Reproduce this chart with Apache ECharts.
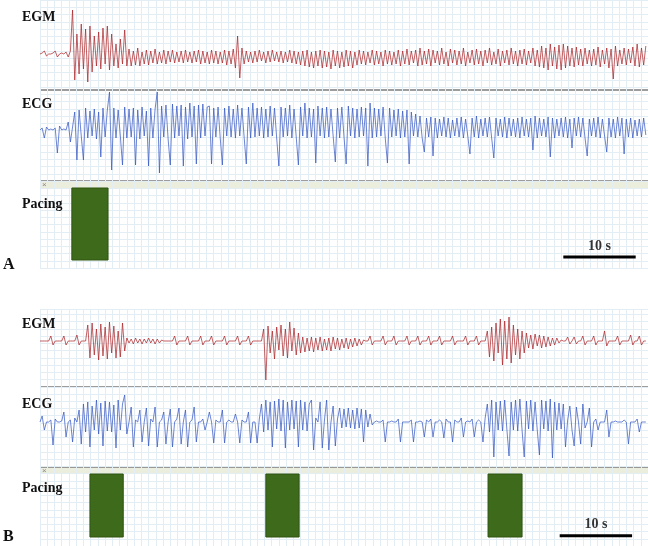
<!DOCTYPE html>
<html>
<head>
<meta charset="utf-8">
<title>EGM / ECG pacing</title>
<script src="https://cdn.jsdelivr.net/npm/echarts@6/dist/echarts.min.js"></script>
</head>
<body style="margin:0;background:#fff">
<div id="main" style="width:648px;height:546px;"></div>
<script type="text/javascript">
var DT = 0.3;      // seconds per sample
var T_MAX = 84;    // seconds shown across the strip

// panel A, signal offsets from baseline (up = positive), one value per DT
var egmA = [
    0, 1, 3, -2, 0, 0, 1, 3, -3, 0, 1, 0, 2, -3, 3, 44, -26, 20, -20, 30,
    -15, 25, -28, 28, -18, 18, -12, 22, -15, 26, -10, 28, -16, 20, -12, 10, -14, 15, -10, 24,
    -12, 5, -12, 3, -11, 6, -12, 2, -10, 4, -11, 3, -9, 5, -10, 2, -9, 4, -10, 3,
    -8, 4, -9, 2, -8, 3, -9, 4, -8, 2, -9, 3, -8, 4, -10, 3, -9, 2, -10, 4,
    -9, 3, -10, 2, -9, 4, -11, 3, -10, 5, -14, 18, -24, 6, -10, 3, -8, 2, -9, 3,
    -8, 4, -7, 2, -9, 3, -8, 4, -7, 2, -8, 3, -9, 2, -8, 4, -9, 3, -10, 2,
    -11, 3, -12, 4, -13, 2, -14, 3, -12, 4, -14, 3, -13, 2, -15, 4, -12, 3, -14, 2,
    -13, 4, -12, 3, -14, 2, -11, 4, -10, 3, -11, 2, -9, 4, -11, 3, -10, 2, -12, 4,
    -10, 3, -11, 2, -10, 4, -12, 3, -10, 5, -11, 3, -9, 4, -12, 6, -11, 3, -10, 5,
    -12, 4, -9, 3, -11, 6, -10, 2, -12, 5, -9, 4, -11, 3, -10, 6, -12, 2, -9, 4,
    -11, 5, -10, 3, -12, 4, -9, 6, -11, 2, -10, 5, -12, 3, -9, 4, -11, 6, -10, 3,
    -12, 4, -10, 5, -11, 3, -9, 6, -12, 4, -13, 8, -14, 6, -16, 10, -12, 7, -15, 9,
    -16, 10, -14, 8, -12, 6, -13, 7, -11, 5, -12, 6, -10, 4, -12, 5, -11, 7, -13, 4,
    -10, 6, -14, 5, -25, 8, -12, 4, -10, 6, -11, 5, -9, 7, -12, 10, -13, 6, -11, 8
];
var ecgA = [
    0, 2, -8, 3, 0, 1, 0, 2, -23, 4, 0, 1, 0, 8, -12, 3, 18, -30, 20, -6,
    -30, 22, -8, 19, -6, 21, -9, 18, -27, 22, -7, 20, 38, -40, 22, -8, 20, -6, -35, 23,
    -8, 21, -7, 22, -35, 20, -9, 23, -6, 19, -36, 22, -8, 21, 38, -43, 24, -7, 25, -9,
    -35, 26, -8, 24, -6, 25, -36, 23, -9, 27, -7, 24, -34, 25, -8, 26, -6, 23, 24, -34,
    22, -7, 23, -8, -35, 22, -6, 24, -7, 21, -8, 25, -6, 22, -7, -34, 23, -8, 27, -7,
    22, -6, 23, -8, 21, -7, 24, -6, 22, -8, -36, 23, -7, 22, -6, 25, -8, 21, -7, -35,
    23, -6, 27, -8, 22, -7, 21, -33, 24, -6, 22, -8, 23, -7, 21, -6, -32, 22, -8, 23,
    -7, -34, 24, -6, 22, -8, 21, -7, 23, -6, 22, -36, 27, -8, 22, -7, 21, -6, 23, -8,
    -33, 22, -7, 20, -6, 21, -8, 19, -7, 20, -34, 18, -6, 16, -7, 14, -8, -22, 12, -7,
    13, -26, 12, -8, 11, -6, 13, -7, 12, -8, 10, -6, 12, -7, 13, -8, 11, -6, -24, 12,
    -7, 14, -8, 11, -6, 12, -7, 13, -8, -28, 12, -6, 11, -7, 13, -8, 12, -6, 11, -7,
    12, -8, 13, -6, 11, -7, 12, -20, 14, -8, 12, -6, 11, -7, 13, -27, 12, -8, 11, -6,
    12, -7, 13, -8, 11, -18, 12, -6, 13, -7, 12, -8, -26, 11, -6, 12, -7, 13, -8, 11,
    -6, -22, 12, -7, 11, -8, 13, -6, 12, -24, 11, -7, 12, -8, 10, -6, 11, -7, 12, -5
];

// panel B
var egmB = [
    0, 0, 0, 0, 0, 5, -4, 0, 0, 0, 0, 5, -4, 0, 0, 0, 0, 6, -4, 0,
    0, 0, 16, -17, 18, -14, 12, -19, 17, -15, 14, -18, 19, -12, 15, -17, 10, -16, 18, -10,
    3, -2, 2, -3, 3, -2, 2, -3, 2, -2, 3, -2, 2, -3, 2, -2, 1, 0, 0, 0,
    0, 0, 5, -4, 0, 0, 0, 0, 5, -4, 0, 0, 0, 0, 5, -4, 0, 0, 0, 5,
    -4, 0, 0, 0, 0, 5, -4, 0, 0, 0, 0, 5, -4, 0, 0, 0, 5, -4, 0, 0,
    0, 0, 0, 12, -39, 15, -12, 10, -18, 14, -9, 16, -15, 12, -17, 19, -10, 13, -14, 8,
    -12, 4, -11, 3, -10, 4, -11, 3, -9, 4, -10, 2, -9, 3, -10, 4, -8, 3, -9, 2,
    -7, 3, -8, 2, -6, 3, -5, 2, -4, 1, 0, 0, 5, -4, 0, 0, 0, 0, 5, -4,
    0, 0, 0, 5, -4, 0, 0, 0, 0, 5, -4, 0, 0, 0, 5, -4, 0, 0, 0, 5,
    -4, 0, 0, 0, 5, -4, 0, 0, 0, 0, 5, -4, 0, 0, 0, 0, 5, -4, 0, 0,
    0, 5, -4, 0, 0, 0, 10, -16, 14, -20, 18, -12, 22, -24, 20, -18, 24, -22, 16, -14,
    12, -18, 10, -12, 8, -7, 6, -8, 7, -5, 6, -7, 5, -6, 4, -5, 3, -4, 3, -2,
    1, 0, 0, 4, -3, 0, 4, -3, 0, 0, 5, -4, 0, 0, 0, 5, -4, 0, 0, 0,
    10, -5, 0, 0, 0, 0, 5, -4, 0, 0, 0, 0, 6, -4, 0, 0, 5, -4, 0, 0
];
var ecgB = [
    0, 6, -8, 0, 0, 2, -23, 3, 0, 0, 1, 10, -15, 0, 2, -20, 4, 0, 12, -22,
    18, -10, 20, -25, 16, -8, 22, -12, 19, -24, 21, -9, 20, -10, 17, -26, 22, -8, 18, 27,
    -12, 0, 15, -25, 2, 0, 12, -20, 0, 14, -24, 3, 0, 15, -25, 0, 2, 10, -22, 0,
    13, -25, 0, 3, 14, -22, 0, 12, -25, 0, 2, 15, -20, 0, 0, 3, -8, 0, 10, 0,
    -21, 2, 0, 0, 12, -21, 0, 2, 0, 0, 8, 0, -21, 2, 0, 0, 10, -21, 0, 0,
    -21, 3, 18, -10, 22, -8, 20, -25, 21, -7, 23, -9, 22, -26, 20, -8, 22, -7, 21, -25,
    22, -8, 20, -9, 18, 22, -28, 4, 0, 20, -26, 2, 22, -28, 0, 16, -24, 3, 14, -6,
    13, -5, 14, -6, 12, -7, 14, -6, 13, -20, 12, -5, 8, -3, 0, 1, 0, 0, 2, -20,
    0, 0, 1, 0, 0, 3, -20, 0, 0, 0, 0, 2, -20, 0, 0, 1, 0, -15, 2, 0,
    3, -15, 0, 0, 2, 0, -16, 3, 0, 0, -20, 2, 0, 0, 4, -15, 0, 1, 0, 3,
    -15, 0, 2, 0, -20, 4, 18, -10, 22, -35, 20, -8, 21, -9, 22, -7, -34, 20, -8, 22,
    -9, 23, -8, -35, 21, -7, 22, -9, 20, -8, -33, 22, -7, 21, -9, 23, -36, 20, -8, 19,
    -7, 18, -25, 2, 16, -8, -24, 15, 0, -22, 18, -6, 0, 14, -25, 0, 3, -8, 0, 0,
    0, 12, -15, 0, 0, 1, 0, 0, 0, 2, 0, -22, 0, 0, 0, 3, -10, 0, 0, 0
];

// pacing on/off windows [start s, end s]
var pacingA = [[4.4, 9.4]];
var pacingB = [[6.9, 11.5], [31.2, 35.8], [61.9, 66.6]];
// 10 s scale bars [start s, end s]
var scaleA = [72.3, 82.3];
var scaleB = [71.8, 81.8];
var scaleText = '10 s';
var rowLabels = ['EGM', 'ECG', 'Pacing'];
var panelLabels = ['A', 'B'];

var PAPER = '#e3eef4';
var EGM_COLOR = '#aa2226';
var ECG_COLOR = '#3455c2';
var PACE_COLOR = '#3e6b1b';
var FONT = 'bold 14px "Liberation Serif", "Times New Roman", serif';

function toPoints(arr) {
    return arr.map(function (v, i) { return [i * DT, v]; });
}

// grid layout: 0/1 graph paper, 2..4 panel A rows, 5..7 panel B rows
var grids = [
    { left: 40, top: 0, width: 608, height: 268 },
    { left: 40, top: 309, width: 608, height: 237 },
    { left: 40, top: 0, width: 608, height: 90 },
    { left: 40, top: 90, width: 608, height: 91 },
    { left: 40, top: 188, width: 608, height: 72 },
    { left: 40, top: 300, width: 608, height: 87 },
    { left: 40, top: 387, width: 608, height: 80 },
    { left: 40, top: 474, width: 608, height: 63 }
];
var yRanges = [
    [0, 268 / 7.238], [0, 237 / 7.238],
    [-36, 54], [-51, 40], [0, 1],
    [-46, 41], [-45, 35], [0, 1]
];

var xAxes = [], yAxes = [];
grids.forEach(function (g, k) {
    var paper = k < 2;
    xAxes.push({
        type: 'value', gridIndex: k, min: 0, max: T_MAX, interval: 1,
        show: paper,
        axisLine: { show: false }, axisTick: { show: false }, axisLabel: { show: false },
        splitLine: { show: paper, lineStyle: { color: PAPER, width: 1 } }
    });
    yAxes.push({
        type: 'value', gridIndex: k, min: yRanges[k][0], max: yRanges[k][1], interval: 1,
        show: paper,
        axisLine: { show: false }, axisTick: { show: false }, axisLabel: { show: false },
        splitLine: { show: paper, lineStyle: { color: PAPER, width: 1 } }
    });
});

function trace(data, idx, color) {
    return {
        type: 'line', xAxisIndex: idx, yAxisIndex: idx,
        data: toPoints(data), showSymbol: false, silent: true,
        lineStyle: { color: color, width: 0.8, opacity: 0.9 }
    };
}

function pacing(data, idx) {
    return {
        type: 'custom', xAxisIndex: idx, yAxisIndex: idx, data: data,
        encode: { x: [0, 1], y: -1 },
        renderItem: function (params, api) {
            var p0 = api.coord([api.value(0), 1]);
            var p1 = api.coord([api.value(1), 0]);
            return {
                type: 'rect',
                shape: { x: p0[0], y: p0[1], width: p1[0] - p0[0], height: p1[1] - p0[1] },
                style: { fill: PACE_COLOR, stroke: '#2e5410', lineWidth: 1 }
            };
        }
    };
}

function scaleBar(range, idx, level) {
    return [{
        type: 'line', xAxisIndex: idx, yAxisIndex: idx, silent: true,
        data: [[range[0], level], [range[1], level]], showSymbol: false,
        lineStyle: { color: '#000', width: 3 }
    }, {
        type: 'scatter', xAxisIndex: idx, yAxisIndex: idx, silent: true,
        data: [[(range[0] + range[1]) / 2, level]], symbolSize: 0,
        label: {
            show: true, position: 'top', distance: 4, formatter: scaleText,
            fontFamily: '"Liberation Serif", serif', fontWeight: 'bold', fontSize: 14, color: '#000'
        }
    }];
}

var series = [
    trace(egmA, 2, EGM_COLOR),
    trace(ecgA, 3, ECG_COLOR),
    pacing(pacingA, 4),
    trace(egmB, 5, EGM_COLOR),
    trace(ecgB, 6, ECG_COLOR),
    pacing(pacingB, 7)
].concat(scaleBar(scaleA, 4, 0.04), scaleBar(scaleB, 7, 0.02));

// row separators and the pale band above each pacing row
function separators(top1, top2) {
    return [
        { type: 'line', shape: { x1: 40, y1: top1, x2: 648, y2: top1 }, style: { stroke: '#7d7d7d', lineWidth: 1.5 } },
        { type: 'rect', shape: { x: 40, y: top2, width: 608, height: 7 }, style: { fill: '#eceedd' } },
        { type: 'line', shape: { x1: 40, y1: top2, x2: 648, y2: top2 }, style: { stroke: '#7d7d7d', lineWidth: 1.5 } },
        { type: 'text', style: { text: '×', x: 42, y: top2 + 4, font: '8px sans-serif', fill: '#888', verticalAlign: 'middle' } }
    ];
}

function txt(s, x, y, size) {
    return {
        type: 'text', z: 10,
        style: {
            text: s, x: x, y: y, fill: '#111', verticalAlign: 'middle',
            font: size ? 'bold ' + size + 'px "Liberation Serif", serif' : FONT
        }
    };
}

var graphics = separators(90, 181).concat(separators(387, 467), [
    txt(rowLabels[0], 22, 17), txt(rowLabels[1], 22, 104), txt(rowLabels[2], 22, 204),
    txt(panelLabels[0], 3, 265, 16),
    txt(rowLabels[0], 22, 324), txt(rowLabels[1], 22, 404), txt(rowLabels[2], 22, 488),
    txt(panelLabels[1], 3, 537, 16)
]);

var chart = echarts.init(document.getElementById('main'));
chart.setOption({
    animation: false,
    backgroundColor: '#fff',
    grid: grids,
    xAxis: xAxes,
    yAxis: yAxes,
    series: series,
    graphic: graphics
});
</script>
</body>
</html>
